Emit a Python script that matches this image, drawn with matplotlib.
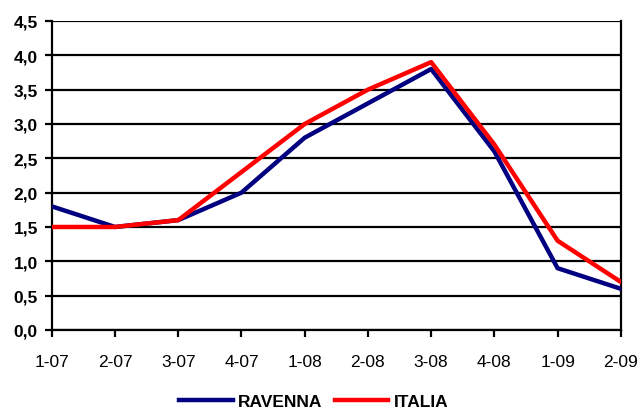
import matplotlib
matplotlib.use('Agg')
import matplotlib.pyplot as plt
from matplotlib.ticker import FuncFormatter

plt.rcParams['font.family'] = ['Liberation Sans', 'DejaVu Sans']

# Trimestri e valori delle due serie
quarters = ['1-07', '2-07', '3-07', '4-07', '1-08', '2-08', '3-08', '4-08', '1-09', '2-09']
ravenna = [1.8, 1.5, 1.6, 2.0, 2.8, 3.3, 3.8, 2.6, 0.9, 0.6]
italia = [1.5, 1.5, 1.6, 2.3, 3.0, 3.5, 3.9, 2.7, 1.3, 0.7]
y_ticks = [0.0, 0.5, 1.0, 1.5, 2.0, 2.5, 3.0, 3.5, 4.0, 4.5]

fig = plt.figure(figsize=(6.4, 4.14), dpi=100)
ax = fig.add_axes([0.081, 0.2005, 0.889, 0.7465])

x = range(len(quarters))
ax.plot(x, ravenna, color='#000080', linewidth=3.2, label='RAVENNA', zorder=3)
ax.plot(x, italia, color='#ff0000', linewidth=3.2, label='ITALIA', zorder=4)

ax.set_xlim(0, len(quarters) - 1)
ax.set_ylim(0, 4.5)
ax.set_xticks(list(x))
ax.set_xticklabels(quarters, fontsize=12.5)
ax.set_yticks(y_ticks)
ax.yaxis.set_major_formatter(FuncFormatter(lambda v, p: f'{v:.1f}'.replace('.', ',')))
for lbl in ax.get_yticklabels():
    lbl.set_fontweight('bold')
    lbl.set_fontsize(12.5)

ax.yaxis.grid(True, color='black', linewidth=1.6)
ax.set_axisbelow(True)
ax.tick_params(axis='both', direction='out', length=5, width=1.6, color='black')
ax.tick_params(axis='x', pad=12)
ax.tick_params(axis='y', pad=5)

ax.spines['top'].set_visible(False)
for side in ['left', 'right', 'bottom']:
    ax.spines[side].set_linewidth(1.6)
    ax.spines[side].set_color('black')

# legenda in basso, senza cornice
fig.legend(loc='lower center', bbox_to_anchor=(0.49, -0.028), ncol=2, frameon=False,
           handlelength=3.1, handletextpad=0.3, columnspacing=0.7,
           prop={'weight': 'bold', 'size': 12.5})

fig.savefig('out.png', dpi=100, facecolor='white')
